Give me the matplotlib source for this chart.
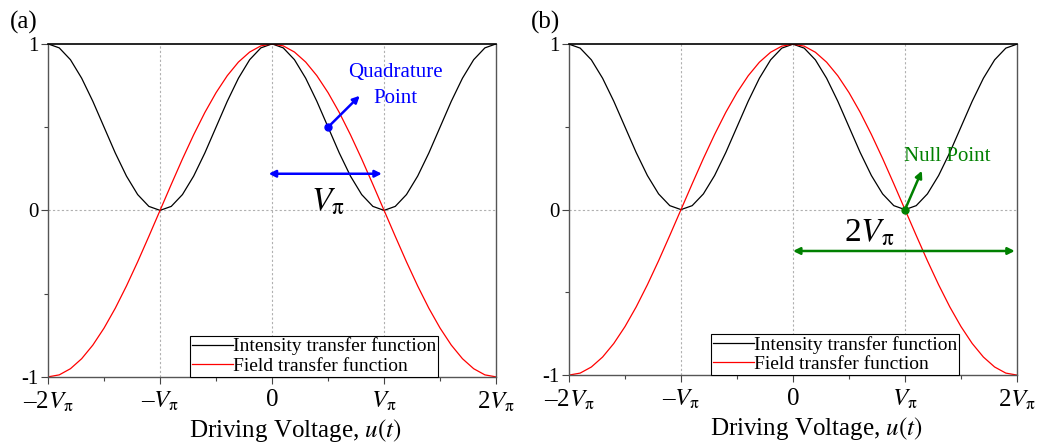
import matplotlib
matplotlib.use("Agg")
import matplotlib.pyplot as plt

# driving voltage in units of V_pi
u = [-2.0, -1.9, -1.8, -1.7, -1.6, -1.5, -1.4, -1.3, -1.2, -1.1,
     -1.0, -0.9, -0.8, -0.7, -0.6, -0.5, -0.4, -0.3, -0.2, -0.1,
     0.0, 0.1, 0.2, 0.3, 0.4, 0.5, 0.6, 0.7, 0.8, 0.9,
     1.0, 1.1, 1.2, 1.3, 1.4, 1.5, 1.6, 1.7, 1.8, 1.9, 2.0]

intensity = [1.0, 0.976, 0.905, 0.794, 0.655, 0.5, 0.345, 0.206, 0.095, 0.024,
             0.0, 0.024, 0.095, 0.206, 0.345, 0.5, 0.655, 0.794, 0.905, 0.976,
             1.0, 0.976, 0.905, 0.794, 0.655, 0.5, 0.345, 0.206, 0.095, 0.024,
             0.0, 0.024, 0.095, 0.206, 0.345, 0.5, 0.655, 0.794, 0.905, 0.976, 1.0]

field = [-1.0, -0.988, -0.951, -0.891, -0.809, -0.707, -0.588, -0.454, -0.309, -0.156,
         0.0, 0.156, 0.309, 0.454, 0.588, 0.707, 0.809, 0.891, 0.951, 0.988,
         1.0, 0.988, 0.951, 0.891, 0.809, 0.707, 0.588, 0.454, 0.309, 0.156,
         0.0, -0.156, -0.309, -0.454, -0.588, -0.707, -0.809, -0.891, -0.951, -0.988, -1.0]

xticks = [-2, -1, 0, 1, 2]
xtick_labels = [u"\u20132$V_\\mathrm{\\pi}$", u"\u2013$V_\\mathrm{\\pi}$", "0",
                r"$V_\mathrm{\pi}$", r"2$V_\mathrm{\pi}$"]
yticks = [-1, 0, 1]
ytick_labels = ["-1", "0", "1"]

plt.rcParams["font.family"] = ["Liberation Serif", "DejaVu Serif"]
plt.rcParams["mathtext.fontset"] = "stix"


def panel(ax, letter):
    ax.plot(u, intensity, color="black", lw=0.9, label="Intensity transfer function")
    ax.plot(u, field, color="red", lw=0.9, label="Field transfer function")
    for xv in [-1, 0, 1]:
        ax.axvline(xv, color="#b0b0b0", lw=0.8, ls=(0, (2, 2)), zorder=0)
    ax.axhline(0, color="#b0b0b0", lw=0.8, ls=(0, (2, 2)), zorder=0)
    ax.set_xlim(-2, 2)
    ax.set_ylim(-1, 1)
    ax.set_xticks(xticks)
    ax.set_xticklabels(xtick_labels, fontsize=18)
    ax.set_xticks([-1.5, -0.5, 0.5, 1.5], minor=True)
    ax.set_yticks(yticks)
    ax.set_yticklabels(ytick_labels, fontsize=15)
    ax.set_yticks([-0.5, 0.5], minor=True)
    ax.tick_params(axis="x", which="major", pad=4)
    ax.tick_params(which="major", length=5, width=0.8, color="#444444")
    ax.tick_params(axis="y", which="major", pad=2)
    ax.tick_params(which="minor", length=3, width=0.8, color="#444444")
    for side in ["left", "right", "bottom"]:
        ax.spines[side].set_color("#555555")
        ax.spines[side].set_linewidth(1.0)
    ax.spines["top"].set_color("black")
    ax.spines["top"].set_linewidth(1.2)
    ax.set_xlabel(r"Driving Voltage, $u(t)$", fontsize=18, labelpad=3)
    ax.xaxis.set_label_coords(0.551, -0.12)
    leg = ax.legend(loc="lower left", bbox_to_anchor=(0.317, 0.0), borderaxespad=0,
                    fontsize=14, handlelength=2.1, handletextpad=0.0,
                    fancybox=False, framealpha=1, edgecolor="black",
                    borderpad=0.1, labelspacing=0.1)
    leg.get_frame().set_linewidth(0.8)
    ax.text(-0.085, 1.10, letter, transform=ax.transAxes, fontsize=18,
            ha="left", va="top")


fig = plt.figure(figsize=(10.4, 4.46), dpi=100)
ax1 = fig.add_axes([0.0462, 0.155, 0.4308, 0.7466])
ax2 = fig.add_axes([0.5471, 0.159, 0.4308, 0.742])

panel(ax1, "(a)")
panel(ax2, "(b)")

# (a) quadrature point
blue = "#0000ff"
ax1.plot([0.5], [0.5], "o", color=blue, ms=5)
ax1.annotate("", xy=(0.8, 0.7), xytext=(0.5, 0.5),
             arrowprops=dict(arrowstyle="-|>", color=blue, lw=1.8, mutation_scale=10))
ax1.text(1.1, 0.75, "Quadrature\nPoint", color=blue, fontsize=15,
         ha="center", va="center", linespacing=1.5)
ax1.annotate("", xy=(-0.03, 0.22), xytext=(0.98, 0.22),
             arrowprops=dict(arrowstyle="<|-|>", color=blue, lw=1.8, mutation_scale=10,
                             shrinkA=0, shrinkB=0))
ax1.text(0.5, 0.05, r"$V_\mathrm{\pi}$", fontsize=24, ha="center", va="center")

# (b) null point
green = "#008000"
ax2.plot([1.0], [0.0], "o", color=green, ms=5)
ax2.annotate("", xy=(1.16, 0.25), xytext=(1.0, 0.0),
             arrowprops=dict(arrowstyle="-|>", color=green, lw=1.8, mutation_scale=10))
ax2.text(1.38, 0.32, "Null Point", color=green, fontsize=15, ha="center", va="center")
ax2.annotate("", xy=(0.0, -0.25), xytext=(1.98, -0.25),
             arrowprops=dict(arrowstyle="<|-|>", color=green, lw=1.8, mutation_scale=10,
                             shrinkA=0, shrinkB=0))
ax2.text(0.68, -0.14, r"2$V_\mathrm{\pi}$", fontsize=24, ha="center", va="center")

fig.savefig("out.png", dpi=100)
